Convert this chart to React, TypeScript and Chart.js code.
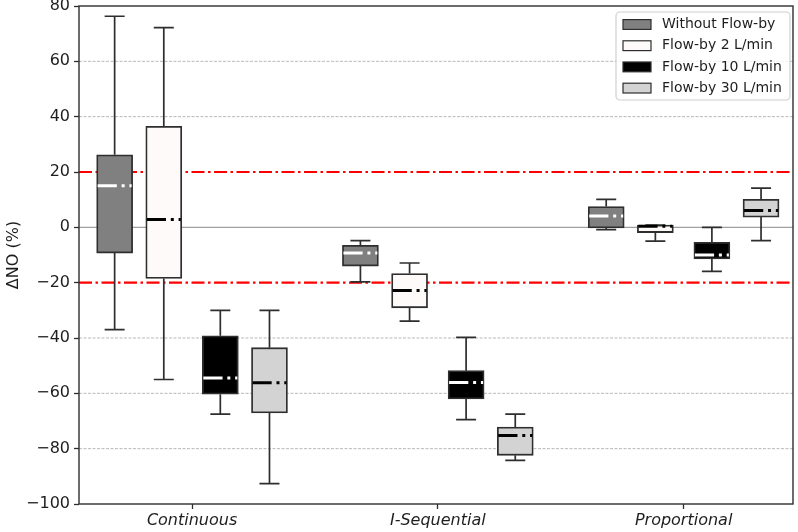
import React, { useEffect, useRef } from 'react';
import { Chart, registerables } from 'chart.js';

Chart.register(...registerables);

const CATEGORIES = ['Continuous', 'I-Sequential', 'Proportional'];
const SERIES_NAMES = ['Without Flow-by', 'Flow-by 2 L/min', 'Flow-by 10 L/min', 'Flow-by 30 L/min'];

// Each entry: [min (lower whisker), q1, median, q3, max (upper whisker)], one per category
const WITHOUT_FLOWBY = [
  [-37, -9.3, 15, 26.2, 76.3],
  [-19.7, -14, -9.3, -6.5, -4.8],
  [-0.8, -0.2, 4.1, 7.5, 10.1],
];
const FLOWBY_2 = [
  [-55, -18.5, 2.8, 36.5, 72.2],
  [-33.9, -29.1, -22.8, -16.7, -12.9],
  [-5, -1.9, 0.4, 0.8, 0.8],
];
const FLOWBY_10 = [
  [-67.5, -60.3, -54.5, -39.2, -30],
  [-69.5, -62, -56.1, -51.8, -39.8],
  [-15.9, -11.4, -10, -5.4, 0],
];
const FLOWBY_30 = [
  [-92.6, -67.1, -56.2, -43.5, -30],
  [-84.2, -82.4, -75.2, -72.2, -67.5],
  [-4.8, 3.7, 6.1, 10.1, 14.2],
];
const SERIES_STATS = [WITHOUT_FLOWBY, FLOWBY_2, FLOWBY_10, FLOWBY_30];

const Y_MIN = -100;
const Y_MAX = 80;
const Y_STEP = 20;
const THRESHOLDS = [20, -20];

// styles / layout
const FILLS = ['#808080', '#fffafa', '#000000', '#d3d3d3'];
const MEDIAN_COLORS = ['#ffffff', '#000000', '#ffffff', '#000000'];
const OFFSETS = [-0.315, -0.115, 0.115, 0.315];
const BOX_PX = 36;
const FONT = '"DejaVu Sans", sans-serif';
const EDGE = '#2e2e2e';
const TEXT = '#1e1e1e';

const boxPlugin = {
  id: 'boxExtras',
  beforeDatasetsDraw(chart: any) {
    const { ctx, chartArea, scales } = chart;
    const { left, right } = chartArea;
    const y = scales.y;
    ctx.save();
    for (const t of y.ticks) {
      const v = t.value;
      if (v === Y_MIN || v === Y_MAX || THRESHOLDS.includes(v)) continue;
      const py = y.getPixelForValue(v);
      ctx.beginPath();
      if (v === 0) {
        ctx.setLineDash([]);
        ctx.strokeStyle = '#a0a0a0';
        ctx.lineWidth = 1.2;
      } else {
        ctx.setLineDash([3, 1.5]);
        ctx.strokeStyle = '#b8b8b8';
        ctx.lineWidth = 1;
      }
      ctx.moveTo(left, py);
      ctx.lineTo(right, py);
      ctx.stroke();
    }
    ctx.setLineDash([13, 3.5, 2.5, 3.5]);
    ctx.strokeStyle = '#ff0000';
    ctx.lineWidth = 2.2;
    for (const v of THRESHOLDS) {
      const py = y.getPixelForValue(v);
      ctx.beginPath();
      ctx.moveTo(left, py);
      ctx.lineTo(right, py);
      ctx.stroke();
    }
    ctx.restore();
  },
  afterDatasetsDraw(chart: any) {
    const { ctx, chartArea, scales } = chart;
    const x = scales.x;
    const y = scales.y;
    ctx.save();
    SERIES_STATS.forEach((stats, si) => {
      stats.forEach((s, ci) => {
        const cx = x.getPixelForValue(ci + 1 + OFFSETS[si]);
        const [mn, q1, med, q3, mx] = s;
        const pMin = y.getPixelForValue(mn);
        const pQ1 = y.getPixelForValue(q1);
        const pMed = y.getPixelForValue(med);
        const pQ3 = y.getPixelForValue(q3);
        const pMax = y.getPixelForValue(mx);
        ctx.setLineDash([]);
        ctx.strokeStyle = EDGE;
        ctx.lineWidth = 1.7;
        ctx.beginPath();
        ctx.moveTo(cx, pQ3);
        ctx.lineTo(cx, pMax);
        ctx.moveTo(cx, pQ1);
        ctx.lineTo(cx, pMin);
        const cap = BOX_PX / 4 + 1;
        ctx.moveTo(cx - cap, pMax);
        ctx.lineTo(cx + cap, pMax);
        ctx.moveTo(cx - cap, pMin);
        ctx.lineTo(cx + cap, pMin);
        ctx.stroke();
        // median, dash-dot
        ctx.beginPath();
        ctx.lineCap = 'butt';
        ctx.setLineDash([19.2, 4.8, 3, 4.8]);
        ctx.strokeStyle = MEDIAN_COLORS[si];
        ctx.lineWidth = 3;
        ctx.moveTo(cx - BOX_PX / 2 + 1, pMed);
        ctx.lineTo(cx + BOX_PX / 2 - 1, pMed);
        ctx.stroke();
      });
    });
    // spines
    ctx.setLineDash([]);
    ctx.strokeStyle = EDGE;
    ctx.lineWidth = 1.4;
    ctx.strokeRect(chartArea.left, chartArea.top, chartArea.right - chartArea.left, chartArea.bottom - chartArea.top);
    ctx.restore();
  },
  afterDraw(chart: any) {
    const { ctx } = chart;
    ctx.save();
    const lx = 616, ly = 12, lw = 174, lh = 88, r = 4;
    ctx.beginPath();
    ctx.moveTo(lx + r, ly);
    ctx.arcTo(lx + lw, ly, lx + lw, ly + lh, r);
    ctx.arcTo(lx + lw, ly + lh, lx, ly + lh, r);
    ctx.arcTo(lx, ly + lh, lx, ly, r);
    ctx.arcTo(lx, ly, lx + lw, ly, r);
    ctx.closePath();
    ctx.fillStyle = 'rgba(255,255,255,0.8)';
    ctx.fill();
    ctx.strokeStyle = '#d0d0d0';
    ctx.lineWidth = 1.2;
    ctx.stroke();
    ctx.font = `14px ${FONT}`;
    ctx.textBaseline = 'middle';
    ctx.textAlign = 'left';
    SERIES_NAMES.forEach((name, i) => {
      const cy = 24.5 + i * 21.2;
      ctx.fillStyle = FILLS[i];
      ctx.fillRect(623, cy - 4.9, 28, 9.8);
      ctx.strokeStyle = EDGE;
      ctx.lineWidth = 1.2;
      ctx.strokeRect(623, cy - 4.9, 28, 9.8);
      ctx.fillStyle = TEXT;
      ctx.fillText(name, 662, cy);
    });
    ctx.restore();
  },
};

export default function App() {
  const ref = useRef<HTMLCanvasElement | null>(null);
  useEffect(() => {
    if (!ref.current) return;
    const datasets = SERIES_STATS.map((stats, si) => ({
      label: SERIES_NAMES[si],
      data: stats.map((s, ci) => ({ x: ci + 1 + OFFSETS[si], y: [s[1], s[3]] })),
      backgroundColor: FILLS[si],
      borderColor: EDGE,
      borderWidth: 1.8,
      borderSkipped: false,
      barThickness: BOX_PX,
      grouped: false,
    }));
    const tickGrid = {
      display: true,
      drawOnChartArea: false,
      drawTicks: true,
      tickLength: 5,
      tickColor: EDGE,
      tickWidth: 1.3,
      offset: false,
    };
    const chart = new Chart(ref.current, {
      type: 'bar',
      data: { datasets: datasets as any },
      options: {
        animation: false,
        responsive: false,
        maintainAspectRatio: false,
        layout: { padding: { top: 6, right: 5, bottom: 0, left: 0 } },
        plugins: { legend: { display: false }, tooltip: { enabled: false } },
        scales: {
          x: {
            type: 'linear',
            min: 0.54,
            max: 3.445,
            offset: false,
            afterBuildTicks: (s: any) => {
              s.ticks = CATEGORIES.map((_, i) => ({ value: i + 1 }));
            },
            afterFit: (s: any) => {
              s.height = 28;
              s.paddingLeft = 0;
              s.paddingRight = 0;
            },
            grid: tickGrid,
            border: { display: false },
            ticks: {
              callback: (v: any) => CATEGORIES[Math.round(Number(v)) - 1] ?? '',
              font: { family: FONT, size: 16, style: 'italic' },
              color: TEXT,
              padding: 2,
              maxRotation: 0,
              autoSkip: false,
            },
          },
          y: {
            type: 'linear',
            min: Y_MIN,
            max: Y_MAX,
            afterFit: (s: any) => {
              s.width = 79;
              s.paddingTop = 0;
              s.paddingBottom = 0;
            },
            grid: tickGrid,
            border: { display: false },
            ticks: {
              stepSize: Y_STEP,
              callback: (v: any) => (Number(v) < 0 ? '\u2212' + Math.abs(Number(v)) : String(v)),
              font: { family: FONT, size: 16 },
              color: TEXT,
              padding: 4,
            },
            title: {
              display: true,
              text: 'ΔNO (%)',
              font: { family: FONT, size: 16 },
              color: TEXT,
              padding: { top: 4, bottom: 0 },
            },
          },
        },
      } as any,
      plugins: [boxPlugin],
    });
    return () => chart.destroy();
  }, []);
  return (
    <div style={{ position: 'absolute', left: 0, top: 0, width: 798, height: 532 }}>
      <canvas ref={ref} width={798} height={532} />
    </div>
  );
}
